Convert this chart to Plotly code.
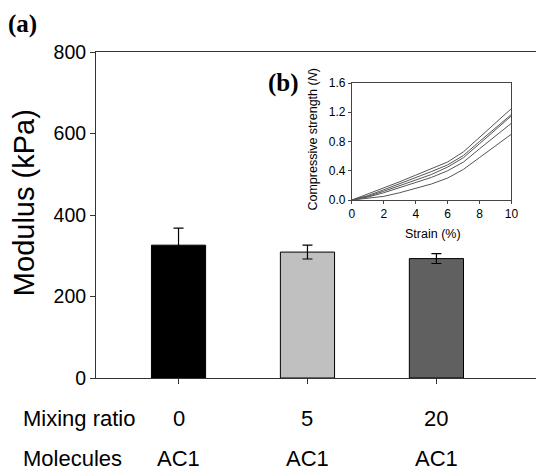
import plotly.graph_objects as go

# ---- main bar data ----
categories = ["0", "5", "20"]          # mixing ratio
molecules = ["AC1", "AC1", "AC1"]
modulus = [326, 309, 293]
modulus_err = [42, 17, 12]
bar_colors = ["#000000", "#c0c0c0", "#606060"]
y_ticks = [0, 200, 400, 600, 800]

# ---- inset data ----
strain = [0, 1, 2, 3, 4, 5, 6, 7, 8, 9, 10]
curve_1 = [0, 0.08, 0.17, 0.25, 0.34, 0.43, 0.52, 0.66, 0.86, 1.05, 1.25]
curve_2 = [0, 0.06, 0.14, 0.22, 0.30, 0.39, 0.48, 0.61, 0.80, 0.98, 1.17]
curve_3 = [0, 0.05, 0.12, 0.20, 0.27, 0.35, 0.45, 0.58, 0.77, 0.96, 1.15]
curve_4 = [0, 0.04, 0.10, 0.17, 0.24, 0.31, 0.40, 0.52, 0.70, 0.88, 1.05]
curve_5 = [0, 0.02, 0.05, 0.10, 0.16, 0.22, 0.30, 0.42, 0.58, 0.74, 0.90]
inset_curves = [curve_1, curve_2, curve_3, curve_4, curve_5]

OFF = 8  # page body margin
W, H = 544 - OFF, 471 - OFF
ML, MR, MT, MB = 96 - OFF, 0, 52 - OFF, 93
font_main = "Liberation Sans, Arial, sans-serif"

def px(xs_, ys_):
    """screen pixel -> paper coords"""
    xf, yf = xs_ - OFF, ys_ - OFF
    return (xf - ML) / (W - ML - MR), (H - MB - yf) / (H - MT - MB)

fig = go.Figure()
xs = list(range(len(categories)))
fig.add_trace(go.Bar(
    x=xs, y=modulus, width=0.42,
    marker=dict(color=bar_colors, line=dict(color="#000000", width=1)),
    error_y=dict(type="data", array=modulus_err, color="#000000", thickness=1.2, width=5),
    showlegend=False,
))

for c in inset_curves:
    fig.add_trace(go.Scatter(
        x=strain, y=c, mode="lines", xaxis="x2", yaxis="y2",
        line=dict(color="#555555", width=1), showlegend=False,
    ))

ix0, iy0 = px(356, 200)
ix1, iy1 = px(518, 83)

fig.update_layout(
    width=W, height=H,
    margin=dict(l=ML, r=MR, t=MT, b=MB),
    paper_bgcolor="white", plot_bgcolor="white",
    font=dict(family=font_main, color="#000000"),
    xaxis=dict(
        range=[-0.64, 2.78], tickvals=xs, ticktext=["", "", ""],
        ticks="outside", ticklen=5, tickcolor="#333333",
        showline=True, linecolor="#333333", linewidth=1, mirror=True,
        showgrid=False, zeroline=False,
    ),
    yaxis=dict(
        range=[0, 800], tickvals=y_ticks,
        ticks="outside", ticklen=5, tickcolor="#333333",
        showline=True, linecolor="#333333", linewidth=1,
        showgrid=False, zeroline=False,
        tickfont=dict(size=19.5, family=font_main),
    ),
    xaxis2=dict(
        domain=[ix0, ix1], anchor="y2", range=[0, 10],
        tickvals=[0, 2, 4, 6, 8, 10],
        ticks="outside", ticklen=3, tickcolor="#444444",
        showline=True, linecolor="#444444", linewidth=1, mirror=True,
        showgrid=False, zeroline=False,
        tickfont=dict(size=12, family=font_main),
    ),
    yaxis2=dict(
        domain=[iy0, iy1], anchor="x2", range=[0, 1.6],
        tickvals=[0, 0.4, 0.8, 1.2, 1.6], tickformat=".1f",
        ticks="outside", ticklen=3, tickcolor="#444444",
        showline=True, linecolor="#444444", linewidth=1, mirror=True,
        showgrid=False, zeroline=False,
        tickfont=dict(size=12, family=font_main),
    ),
)

ann = []
# row labels under the axis
for i, (m, mol) in enumerate(zip(categories, molecules)):
    ann.append(dict(x=i, xref="x", y=px(0, 418)[1], yref="paper", text=m, showarrow=False,
                    font=dict(size=22), xanchor="center", yanchor="middle"))
    ann.append(dict(x=i, xref="x", y=px(0, 458)[1], yref="paper", text=mol, showarrow=False,
                    font=dict(size=22), xanchor="center", yanchor="middle"))

for txt, xp, yp in [("Mixing ratio", 20, 418), ("Molecules", 20, 458)]:
    ax, ay = px(xp, yp)
    ann.append(dict(x=ax, y=ay, xref="paper", yref="paper", text=txt, showarrow=False,
                    font=dict(size=22), xanchor="left", yanchor="middle"))

ax, ay = px(23, 203)
ann.append(dict(x=ax, y=ay, xref="paper", yref="paper", text="Modulus (kPa)",
                textangle=-90, showarrow=False, font=dict(size=29),
                xanchor="center", yanchor="middle"))
ax, ay = px(316, 140)
ann.append(dict(x=ax, y=ay, xref="paper", yref="paper", text="Compressive strength (<i>N</i>)",
                textangle=-90, showarrow=False, font=dict(size=12.5),
                xanchor="center", yanchor="middle"))
ax, ay = px(438, 234)
ann.append(dict(x=ax, y=ay, xref="paper", yref="paper", text="Strain (%)",
                showarrow=False, font=dict(size=12.5), xanchor="center", yanchor="middle"))
ax, ay = px(21, 8)
ann.append(dict(x=ax, y=ay, xref="paper", yref="paper", text="<b>(a)</b>", showarrow=False,
                font=dict(size=25, family="Liberation Serif, Times New Roman, serif"),
                xanchor="center", yanchor="top"))
ax, ay = px(286, 83)
ann.append(dict(x=ax, y=ay, xref="paper", yref="paper", text="<b>(b)</b>", showarrow=False,
                font=dict(size=25, family="Liberation Serif, Times New Roman, serif"),
                xanchor="center", yanchor="middle"))

fig.update_layout(annotations=ann)
fig.write_html("out.html")
